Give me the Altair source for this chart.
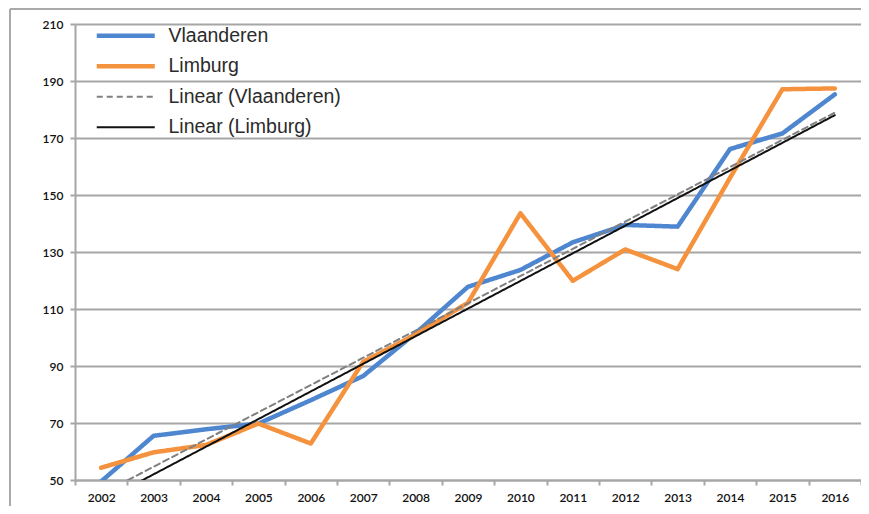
import altair as alt
import pandas as pd

# ---- data ----
years = [str(y) for y in range(2002, 2017)]
vlaanderen = [49.5, 65.5, 67.8, 69.8, 78.0, 86.5, 101.5, 117.8, 123.7, 133.4, 139.5, 138.9, 166.1, 171.6, 185.3]
limburg = [54.3, 59.7, 62.3, 69.8, 62.8, 91.5, 101.0, 112.2, 143.6, 119.9, 130.9, 124.0, 156.0, 187.1, 187.4]
trend_years = ["2002", "2016"]
trend_vlaanderen = [45.1, 178.9]
trend_limburg = [42.3, 178.0]
series_names = ["Vlaanderen", "Limburg", "Linear (Vlaanderen)", "Linear (Limburg)"]
series_colors = ["#4f86d0", "#f5923e", "#808080", "#111111"]
series_dash = [[1, 0], [1, 0], [6, 4], [1, 0]]
series_width = [4.5, 4.5, 2, 2]
y_ticks = [50, 70, 90, 110, 130, 150, 170, 190, 210]

rows = []
for yr, v in zip(years, vlaanderen):
    rows.append({"year": yr, "value": v, "series": series_names[0], "w": series_width[0]})
for yr, v in zip(years, limburg):
    rows.append({"year": yr, "value": v, "series": series_names[1], "w": series_width[1]})
for yr, v in zip(trend_years, trend_vlaanderen):
    rows.append({"year": yr, "value": v, "series": series_names[2], "w": series_width[2]})
for yr, v in zip(trend_years, trend_limburg):
    rows.append({"year": yr, "value": v, "series": series_names[3], "w": series_width[3]})
df = pd.DataFrame(rows)

W, H = 786, 456
GRID = "#a6a6a6"
TICK_FONT = "Lato"

x_enc = alt.X(
    "year:N",
    sort=years,
    scale=alt.Scale(type="band", domain=years, paddingInner=0, paddingOuter=0),
    axis=alt.Axis(
        title=None, labelAngle=0, tickBand="extent", grid=False,
        domain=True, domainColor=GRID, domainWidth=2,
        ticks=True, tickColor=GRID, tickWidth=2, tickSize=5,
        labelFont=TICK_FONT, labelFontSize=12, labelColor="#111111",
        labelFontWeight=600, labelPadding=7,
    ),
)
y_enc = alt.Y(
    "value:Q",
    scale=alt.Scale(domain=[50, 210], nice=False, zero=False),
    axis=alt.Axis(
        title=None, values=y_ticks, grid=True, gridColor=GRID, gridWidth=2,
        domain=True, domainColor=GRID, domainWidth=2,
        ticks=True, tickColor=GRID, tickWidth=2, tickSize=5,
        labelFont=TICK_FONT, labelFontSize=12, labelColor="#111111",
        labelFontWeight=600, labelPadding=7,
    ),
)

lines = alt.Chart(df).mark_line(clip=True, strokeCap="round", strokeJoin="round").encode(
    x=x_enc,
    y=y_enc,
    color=alt.Color(
        "series:N",
        scale=alt.Scale(domain=series_names, range=series_colors),
        legend=alt.Legend(
            title=None, orient="none", legendX=41, legendY=2, padding=0,
            symbolType="stroke", symbolSize=3364,
            symbolStrokeWidth=alt.ExprRef(expr="(datum.value == 'Vlaanderen' || datum.value == 'Limburg') ? 4.5 : 2"),
            labelFont="Liberation Sans", labelFontSize=19.5, labelColor="#2b2b2b",
            labelOffset=33, rowPadding=9.5, labelLimit=400,
        ),
    ),
    strokeDash=alt.StrokeDash(
        "series:N",
        scale=alt.Scale(domain=series_names, range=series_dash),
    ),
    strokeWidth=alt.StrokeWidth("w:Q", scale=None, legend=None),
    order=alt.Order("series_idx:Q"),
).transform_calculate(
    series_idx="indexof(['Vlaanderen','Limburg','Linear (Vlaanderen)','Linear (Limburg)'], datum.series)"
)

frame_df = pd.DataFrame({"k": [0]})
frame_top = alt.Chart(frame_df).mark_rule(color="#a9a9a9", strokeWidth=2).encode(
    x=alt.value(-65), x2=alt.value(W + 20), y=alt.value(-15)
)
frame_left = alt.Chart(frame_df).mark_rule(color="#a9a9a9", strokeWidth=2).encode(
    x=alt.value(-65), y=alt.value(-15), y2=alt.value(H + 40)
)

chart = alt.layer(frame_top, frame_left, lines).properties(
    width=W, height=H,
    autosize=alt.AutoSizeParams(type="none"),
    padding={"left": 67, "top": 16, "right": 0, "bottom": 26},
    background="white",
).configure_view(stroke=None)

chart.save("out.html", embed_options={"renderer": "svg", "actions": False})
